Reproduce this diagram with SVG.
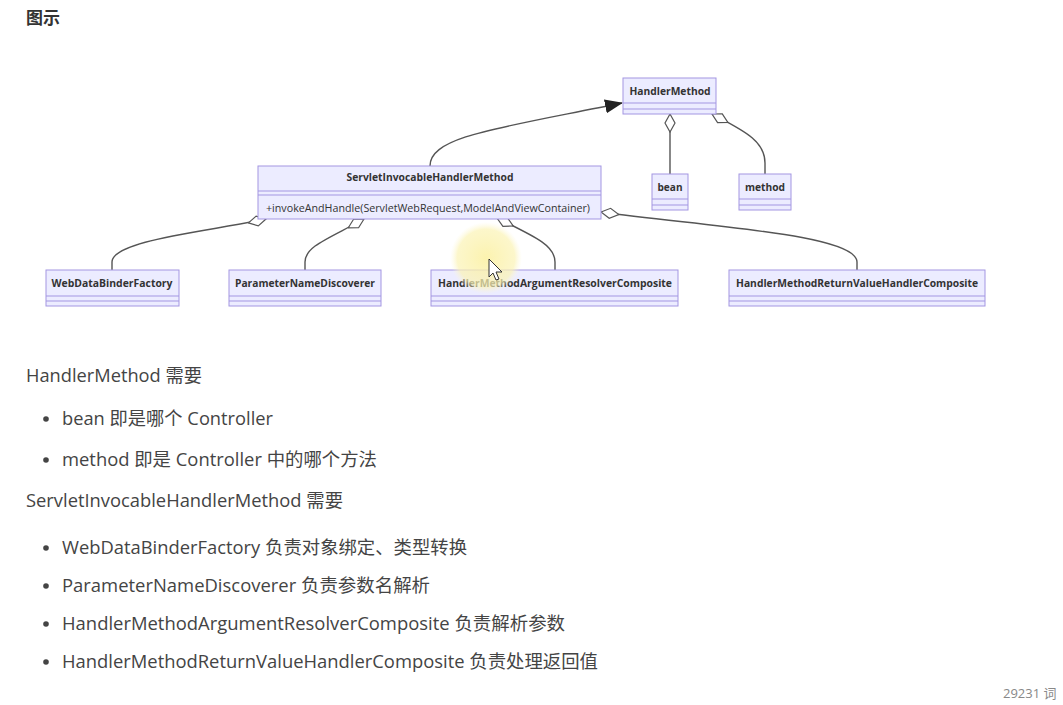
<svg xmlns="http://www.w3.org/2000/svg" width="1063" height="705" viewBox="0 0 1063 705">
<style>
.box{fill:#ececff;stroke:#a396e2;stroke-width:1}
.div{stroke:#a396e2;stroke-width:1;fill:none}
.t{font-family:"Open Sans","Liberation Sans",sans-serif;font-weight:bold;font-size:10.5px;fill:#333;text-anchor:middle}
.m{font-family:"Open Sans","Liberation Sans",sans-serif;font-size:10.5px;fill:#333}
.edge{fill:none;stroke:#555;stroke-width:1.4}
.agg{marker-start:url(#diamond)}
.body{font-family:"Open Sans","Noto Sans CJK SC",sans-serif;font-size:18.3px;fill:#444}
.dot{fill:#444}
</style>
<defs>
<marker id="diamond" viewBox="0 0 20 12" refX="1" refY="6" markerWidth="20" markerHeight="12" markerUnits="userSpaceOnUse" orient="auto">
<path d="M1,6 L10,1 L19,6 L10,11 Z" fill="#fff" stroke="#555" stroke-width="1.2"/>
</marker>
<marker id="arrow" viewBox="0 0 18 14" refX="17" refY="7" markerWidth="18" markerHeight="14" markerUnits="userSpaceOnUse" orient="auto">
<path d="M0,0 L18,7 L0,14 Z" fill="#222"/>
</marker>
<radialGradient id="hl">
<stop offset="0" stop-color="#fbf0a0" stop-opacity="0.85"/>
<stop offset="0.8" stop-color="#fbf3b5" stop-opacity="0.7"/>
<stop offset="1" stop-color="#fdf8d8" stop-opacity="0"/>
</radialGradient>
</defs>
<rect width="1063" height="705" fill="#fff"/>
<text x="26" y="24" font-family="Noto Sans CJK SC,sans-serif" font-weight="bold" font-size="17" fill="#333">图示</text>

<g id="connectors">
<path class="edge" d="M430,166 C430,136 500,128 622,103" marker-end="url(#arrow)"/>
<path class="edge agg" d="M670,114 L670,174"/>
<path class="edge agg" d="M712,114 C742,130 765,140 765,163 L765,174"/>
<path class="edge agg" d="M266,219 C212,231 112,240 112,262 L112,270"/>
<path class="edge agg" d="M364,219 C330,238 305,246 305,262 L305,270"/>
<path class="edge agg" d="M497,218 C538,238 555,246 555,262 L555,270"/>
<path class="edge agg" d="M601,212 C700,226 857,234 857,262 L857,270"/>
</g>

<g id="HandlerMethod">
<rect class="box" x="623" y="78" width="93" height="36"/>
<path class="div" d="M623,103 H716 M623,109 H716"/>
<text class="t" x="670" y="95" textLength="81" lengthAdjust="spacingAndGlyphs">HandlerMethod</text>
</g>
<g id="bean">
<rect class="box" x="652" y="174" width="36" height="36"/>
<path class="div" d="M652,199 H688 M652,205 H688"/>
<text class="t" x="670" y="191" textLength="25" lengthAdjust="spacingAndGlyphs">bean</text>
</g>
<g id="method">
<rect class="box" x="739" y="174" width="52" height="36"/>
<path class="div" d="M739,199 H791 M739,205 H791"/>
<text class="t" x="765" y="191" textLength="40" lengthAdjust="spacingAndGlyphs">method</text>
</g>
<g id="ServletInvocableHandlerMethod">
<rect class="box" x="258" y="166" width="343" height="53"/>
<path class="div" d="M258,191 H601 M258,195 H601"/>
<text class="t" x="430" y="181" textLength="167" lengthAdjust="spacingAndGlyphs">ServletInvocableHandlerMethod</text>
<text class="m" x="266" y="212" textLength="324" lengthAdjust="spacingAndGlyphs">+invokeAndHandle(ServletWebRequest,ModelAndViewContainer)</text>
</g>
<g id="WebDataBinderFactory">
<rect class="box" x="46" y="270" width="133" height="36"/>
<path class="div" d="M46,296 H179 M46,301 H179"/>
<text class="t" x="112" y="287" textLength="121" lengthAdjust="spacingAndGlyphs">WebDataBinderFactory</text>
</g>
<g id="ParameterNameDiscoverer">
<rect class="box" x="229" y="270" width="152" height="36"/>
<path class="div" d="M229,296 H381 M229,301 H381"/>
<text class="t" x="305" y="287" textLength="140" lengthAdjust="spacingAndGlyphs">ParameterNameDiscoverer</text>
</g>
<g id="HandlerMethodArgumentResolverComposite">
<rect class="box" x="431" y="270" width="247" height="36"/>
<path class="div" d="M431,296 H678 M431,301 H678"/>
<text class="t" x="555" y="287" textLength="234" lengthAdjust="spacingAndGlyphs">HandlerMethodArgumentResolverComposite</text>
</g>
<g id="HandlerMethodReturnValueHandlerComposite">
<rect class="box" x="729" y="270" width="256" height="36"/>
<path class="div" d="M729,296 H985 M729,301 H985"/>
<text class="t" x="857" y="287" textLength="242" lengthAdjust="spacingAndGlyphs">HandlerMethodReturnValueHandlerComposite</text>
</g>

<circle cx="486" cy="258" r="36" fill="url(#hl)"/>
<path d="M489,259 L489,277 L493,273 L496,280 L499,279 L496,272 L502,272 Z" fill="#fff" stroke="#333" stroke-width="1"/>

<g id="text">
<text class="body" x="26" y="382" textLength="176" lengthAdjust="spacingAndGlyphs">HandlerMethod 需要</text>
<circle class="dot" cx="46" cy="419" r="2.8"/>
<text class="body" x="62" y="425" textLength="211" lengthAdjust="spacingAndGlyphs">bean 即是哪个 Controller</text>
<circle class="dot" cx="46" cy="460" r="2.8"/>
<text class="body" x="62" y="466" textLength="315" lengthAdjust="spacingAndGlyphs">method 即是 Controller 中的哪个方法</text>
<text class="body" x="26" y="507" textLength="317" lengthAdjust="spacingAndGlyphs">ServletInvocableHandlerMethod 需要</text>
<circle class="dot" cx="46" cy="548" r="2.8"/>
<text class="body" x="62" y="554" textLength="405" lengthAdjust="spacingAndGlyphs">WebDataBinderFactory 负责对象绑定、类型转换</text>
<circle class="dot" cx="46" cy="586" r="2.8"/>
<text class="body" x="62" y="592" textLength="368" lengthAdjust="spacingAndGlyphs">ParameterNameDiscoverer 负责参数名解析</text>
<circle class="dot" cx="46" cy="624" r="2.8"/>
<text class="body" x="62" y="630" textLength="503" lengthAdjust="spacingAndGlyphs">HandlerMethodArgumentResolverComposite 负责解析参数</text>
<circle class="dot" cx="46" cy="662" r="2.8"/>
<text class="body" x="62" y="668" textLength="536" lengthAdjust="spacingAndGlyphs">HandlerMethodReturnValueHandlerComposite 负责处理返回值</text>
<text x="1003" y="698" font-family="Open Sans,Noto Sans CJK SC,sans-serif" font-size="13" fill="#888">29231 词</text>
</g>
</svg>
